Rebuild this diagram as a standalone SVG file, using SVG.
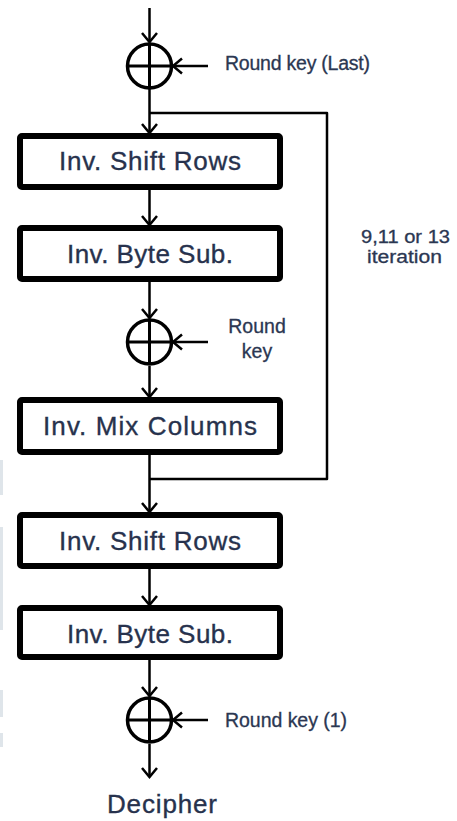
<svg xmlns="http://www.w3.org/2000/svg" width="457" height="821" viewBox="0 0 457 821">
<style>
  .box { fill: #ffffff; stroke: #000000; stroke-width: 6; }
  .btxt { font-family: "Liberation Sans", Arial, sans-serif; font-size: 26px; fill: #27324d; stroke: #27324d; stroke-width: 0.35; text-anchor: middle; }
  .ltxt { font-family: "Liberation Sans", Arial, sans-serif; font-size: 19.5px; fill: #2b3752; stroke: #2b3752; stroke-width: 0.3; }
  .itxt { font-size: 17.5px; }
  .xor { fill: #ffffff; stroke: #000000; stroke-width: 3.5; }
  .cross { stroke: #000000; stroke-width: 3; }
  .conn { fill: none; stroke: #000000; stroke-width: 2.5; stroke-linejoin: round; }
  .arr { marker-end: url(#ah); }
  .strip { fill: #dfe5ea; }
</style>
<defs>
  <marker id="ah" markerUnits="userSpaceOnUse" viewBox="-12 -10 14 20" markerWidth="14" markerHeight="20" refX="0" refY="0" orient="auto">
    <path d="M-9,-7.5 L0,0 L-9,7.5" fill="none" stroke="#000000" stroke-width="2.5" stroke-linejoin="miter"/>
  </marker>
</defs>

<g id="artifacts">
  <rect class="strip" x="0" y="460" width="3" height="35"/>
  <rect class="strip" x="0" y="527" width="3" height="103"/>
  <rect class="strip" x="0" y="690" width="3" height="27"/>
  <rect class="strip" x="0" y="733" width="3" height="14"/>
</g>

<g id="connectors">
  <path class="conn arr" d="M149.5 8 V42"/>
  <path class="conn arr" d="M149.5 88 V133"/>
  <path class="conn" d="M149.5 113 H327 V479 H149.5"/>
  <path class="conn arr" d="M149.5 190 V225"/>
  <path class="conn arr" d="M149.5 282 V318"/>
  <path class="conn arr" d="M149.5 366 V397"/>
  <path class="conn arr" d="M149.5 455 V512"/>
  <path class="conn arr" d="M149.5 569 V605"/>
  <path class="conn arr" d="M149.5 660 V696"/>
  <path class="conn arr" d="M149.5 744 V777"/>
  <path class="conn arr" d="M208 66 H173"/>
  <path class="conn arr" d="M208 342 H173"/>
  <path class="conn arr" d="M208 720 H173"/>
</g>

<g id="xor1">
  <circle class="xor" cx="149.5" cy="66" r="22"/>
  <line class="cross" x1="127.5" y1="66" x2="171.5" y2="66"/>
  <line class="cross" x1="149.5" y1="44" x2="149.5" y2="88"/>
</g>
<g id="xor2">
  <circle class="xor" cx="149.5" cy="342" r="22"/>
  <line class="cross" x1="127.5" y1="342" x2="171.5" y2="342"/>
  <line class="cross" x1="149.5" y1="320" x2="149.5" y2="364"/>
</g>
<g id="xor3">
  <circle class="xor" cx="149.5" cy="720" r="22"/>
  <line class="cross" x1="127.5" y1="720" x2="171.5" y2="720"/>
  <line class="cross" x1="149.5" y1="698" x2="149.5" y2="742"/>
</g>

<g id="box1">
  <rect class="box" x="20" y="136" width="260" height="51" rx="2"/>
  <text class="btxt" x="150" y="170" textLength="182">Inv. Shift Rows</text>
</g>
<g id="box2">
  <rect class="box" x="20" y="228" width="260" height="51" rx="2"/>
  <text class="btxt" x="150" y="263" textLength="166">Inv. Byte Sub.</text>
</g>
<g id="box3">
  <rect class="box" x="20" y="400" width="260" height="52" rx="2"/>
  <text class="btxt" x="150" y="435" textLength="214">Inv. Mix Columns</text>
</g>
<g id="box4">
  <rect class="box" x="20" y="515" width="260" height="51" rx="2"/>
  <text class="btxt" x="150" y="550" textLength="182">Inv. Shift Rows</text>
</g>
<g id="box5">
  <rect class="box" x="20" y="608" width="260" height="49" rx="2"/>
  <text class="btxt" x="150" y="643" textLength="166">Inv. Byte Sub.</text>
</g>

<g id="labels">
  <text class="ltxt" x="225" y="70" textLength="145">Round key (Last)</text>
  <text class="ltxt" x="257" y="333" text-anchor="middle">Round</text>
  <text class="ltxt" x="257" y="358" text-anchor="middle">key</text>
  <text class="ltxt itxt" x="405.5" y="243" text-anchor="middle" textLength="89" lengthAdjust="spacingAndGlyphs">9,11 or 13</text>
  <text class="ltxt itxt" x="404.5" y="263" text-anchor="middle" textLength="75" lengthAdjust="spacingAndGlyphs">iteration</text>
  <text class="ltxt" x="225" y="727" textLength="122">Round key (1)</text>
  <text class="btxt" x="162" y="813" textLength="110">Decipher</text>
</g>
</svg>
